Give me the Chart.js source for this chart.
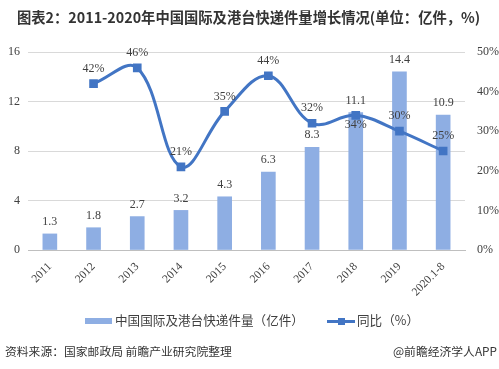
<!DOCTYPE html>
<html>
<head>
<meta charset="utf-8">
<script src="https://cdn.jsdelivr.net/npm/chart.js@4.4.0/dist/chart.umd.min.js"></script>
<style>
  body { margin: 0; background: #fff; }
  #wrap { position: relative; width: 499px; height: 369px; overflow: hidden; font-family: "Noto Sans CJK SC", sans-serif; }
  #chart { position: absolute; left: 0; top: 0; }
  .txt { position: absolute; white-space: nowrap; }
  #title { left: 17px; top: 6px; font-size: 14.3px; font-weight: bold; color: #333; }
  .leg { top: 310px; font-size: 12.6px; color: #404040; }
  #src { left: 5px; top: 342px; font-size: 11.8px; color: #333; }
  #app { right: 2px; top: 342px; font-size: 11.8px; color: #333; }
  .sw { position: absolute; }
</style>
</head>
<body>
<div id="wrap">
  <canvas id="chart" width="499" height="369"></canvas>
  <div id="title" class="txt">图表2：2011-2020年中国国际及港台快递件量增长情况(单位：亿件，%)</div>
  <div class="sw" style="left:85px;top:318px;width:27px;height:6px;background:#8EAEE3;"></div>
  <div id="leg1" class="txt leg" style="left:115px;">中国国际及港台快递件量（亿件）</div>
  <div class="sw" style="left:327px;top:320px;width:28px;height:3px;background:#4275C4;"></div>
  <div class="sw" style="left:338px;top:318px;width:7px;height:7px;background:#4275C4;"></div>
  <div id="leg2" class="txt leg" style="left:357px;">同比（%）</div>
  <div id="src" class="txt">资料来源：国家邮政局 前瞻产业研究院整理</div>
  <div id="app" class="txt">@前瞻经济学人APP</div>
</div>
<script>
var years = ["2011", "2012", "2013", "2014", "2015", "2016", "2017", "2018", "2019", "2020.1-8"];
var volume = [1.3, 1.8, 2.7, 3.2, 4.3, 6.3, 8.3, 11.1, 14.4, 10.9];
var growth = [null, 42, 46, 21, 35, 44, 32, 34, 30, 25];
var leftTicks = [0, 4, 8, 12, 16];

var barColor = "#8EAEE3";
var lineColor = "#4275C4";
var serif = "'Liberation Serif', 'DejaVu Serif', serif";

// draws the value labels over bars and points
var valueLabels = {
    id: "valueLabels",
    afterDatasetsDraw: function(chart) {
        var ctx = chart.ctx;
        ctx.save();
        ctx.font = "12px " + serif;
        ctx.fillStyle = "#404040";
        ctx.textAlign = "center";
        ctx.textBaseline = "bottom";
        chart.getDatasetMeta(0).data.forEach(function(bar, i) {
            ctx.fillText(volume[i].toFixed(1), bar.x, bar.y - 6);
        });
        chart.getDatasetMeta(1).data.forEach(function(pt, i) {
            if (growth[i] === null) return;
            if (growth[i] === 34) {
                ctx.textBaseline = "top";
                ctx.fillText(growth[i] + "%", pt.x, pt.y + 3);
                ctx.textBaseline = "bottom";
            } else {
                ctx.fillText(growth[i] + "%", pt.x, pt.y - 9);
            }
        });
        ctx.restore();
    }
};

var chart = new Chart(document.getElementById("chart"), {
    data: {
        labels: years,
        datasets: [{
            type: "bar",
            label: "中国国际及港台快递件量（亿件）",
            data: volume,
            yAxisID: "y",
            backgroundColor: barColor,
            barThickness: 14,
            order: 1
        }, {
            type: "line",
            label: "同比（%）",
            data: growth,
            yAxisID: "y1",
            borderColor: lineColor,
            backgroundColor: lineColor,
            borderWidth: 3,
            tension: 0.38,
            pointStyle: "rect",
            pointRadius: 4,
            order: 0
        }]
    },
    options: {
        responsive: false,
        animation: false,
        layout: { padding: { top: 52, left: 0, right: 0, bottom: 0 } },
        plugins: {
            legend: { display: false },
            title: { display: false },
            tooltip: { enabled: false }
        },
        scales: {
            x: {
                grid: { display: false },
                border: { color: "#BFBFBF" },
                ticks: {
                    minRotation: 45, maxRotation: 45,
                    color: "#404040",
                    font: { family: serif, size: 11.5 },
                    padding: 2
                },
                afterFit: function(s) { s.height = 119; }
            },
            y: {
                position: "left",
                min: 0, max: 16,
                afterBuildTicks: function(s) { s.ticks = leftTicks.map(function(v) { return { value: v }; }); },
                grid: { color: "#D9D9D9", drawTicks: false },
                border: { display: false },
                ticks: { color: "#404040", font: { family: serif, size: 12 }, padding: 8 },
                afterFit: function(s) { s.width = 28; }
            },
            y1: {
                position: "right",
                min: 0, max: 50,
                ticks: {
                    stepSize: 10,
                    color: "#404040",
                    font: { family: serif, size: 12 },
                    padding: 4,
                    callback: function(v) { return v + "%"; }
                },
                grid: { display: false },
                border: { display: false },
                afterFit: function(s) { s.width = 34; }
            }
        }
    },
    plugins: [valueLabels]
});
</script>
</body>
</html>
